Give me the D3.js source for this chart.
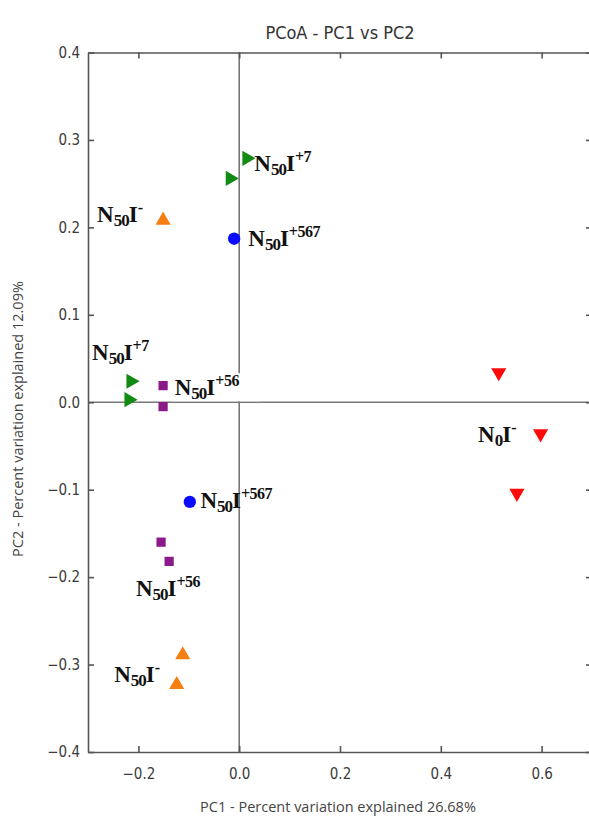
<!DOCTYPE html>
<html>
<head>
<meta charset="utf-8">
<script src="https://cdn.jsdelivr.net/npm/d3@7"></script>
<style>
  body { margin: 0; background: #fff; }
  svg { display: block; }
</style>
</head>
<body>
<div id="chart"></div>
<script>
var width = 589
var height = 819

// sample coordinates per group
var groups = ['N50I+7', 'N50I-', 'N50I+567', 'N50I+56', 'N0I-']
var groupColors = ['#138a13', '#f57f12', '#0a0aff', '#8a1a8a', '#ff0a0a']
var groupShapes = ['right', 'up', 'circle', 'square', 'down']

var pc1 = [0.015, -0.018, -0.215, -0.219,
           -0.151, -0.112, -0.124,
           -0.010, -0.098,
           -0.151, -0.151, -0.155, -0.139,
           0.515, 0.598, 0.551]
var pc2 = [0.279, 0.256, 0.024, 0.003,
           0.208, -0.289, -0.323,
           0.187, -0.114,
           0.019, -0.005, -0.160, -0.182,
           0.034, -0.036, -0.104]
var sampleGroup = [0, 0, 0, 0, 1, 1, 1, 2, 2, 3, 3, 3, 3, 4, 4, 4]

// annotation labels: subscript, superscript, anchor in data units
var labelSub = ['50', '50', '50', '50', '50', '0', '50', '50', '50']
var labelSup = ['+7', '-', '+567', '+7', '+56', '-', '+567', '+56', '-']
var labelPC1 = [0.03, -0.282, 0.018, -0.292, -0.128, 0.474, -0.077, -0.205, -0.248]
var labelPC2 = [0.264, 0.206, 0.179, 0.048, 0.008, -0.046, -0.121, -0.222, -0.320]
var labelBox = [false, false, false, false, true, false, false, false, false]

var xTicks = [-0.2, 0.0, 0.2, 0.4, 0.6]
var yTicks = [-0.4, -0.3, -0.2, -0.1, 0.0, 0.1, 0.2, 0.3, 0.4]

var svg = d3.select('#chart')
    .append('svg')
    .attr('width', width)
    .attr('height', height)

var x = d3.scaleLinear().domain([-0.3, 0.7]).range([88, 592])
var y = d3.scaleLinear().domain([-0.4, 0.4]).range([752, 52.5])

var axisColor = '#555'
var sans = 'DejaVu Sans Condensed, DejaVu Sans, sans-serif'

// zero lines
svg.append('line')
    .attr('x1', x(-0.3)).attr('x2', x(0.7))
    .attr('y1', y(0)).attr('y2', y(0))
    .attr('stroke', '#777').attr('stroke-width', 1.6)
svg.append('line')
    .attr('x1', x(0)).attr('x2', x(0))
    .attr('y1', y(0.4)).attr('y2', y(-0.4))
    .attr('stroke', '#777').attr('stroke-width', 1.6)

// axes with inward ticks on all four sides
function styleAxis(g) {
    g.select('.domain').attr('stroke', axisColor).attr('stroke-width', 1.6)
    g.selectAll('.tick line').attr('stroke', axisColor).attr('stroke-width', 1.6)
    g.selectAll('.tick text')
        .attr('fill', '#3a3a3a')
        .attr('font-family', sans)
        .attr('font-size', 15)
}
var fmt = function(d) { return d3.format('.1f')(d).replace('-', '\u2212') }

svg.append('g')
    .attr('transform', 'translate(0,' + y(-0.4) + ')')
    .call(d3.axisBottom(x).tickValues(xTicks).tickFormat(fmt).tickSizeInner(-6).tickSizeOuter(0).tickPadding(16))
    .call(styleAxis)
svg.append('g')
    .attr('transform', 'translate(0,' + y(0.4) + ')')
    .call(d3.axisTop(x).tickValues(xTicks).tickFormat('').tickSizeInner(-6).tickSizeOuter(0))
    .call(styleAxis)
svg.append('g')
    .attr('transform', 'translate(' + x(-0.3) + ',0)')
    .call(d3.axisLeft(y).tickValues(yTicks).tickFormat(fmt).tickSizeInner(-6).tickSizeOuter(0).tickPadding(8))
    .call(styleAxis)
svg.append('g')
    .attr('transform', 'translate(' + x(0.7) + ',0)')
    .call(d3.axisRight(y).tickValues(yTicks).tickFormat('').tickSizeInner(-6).tickSizeOuter(0))
    .call(styleAxis)

// titles
svg.append('text')
    .attr('x', 340).attr('y', 39)
    .attr('text-anchor', 'middle')
    .attr('font-family', sans)
    .attr('font-size', 18)
    .attr('fill', '#333')
    .text('PCoA - PC1 vs PC2')
svg.append('text')
    .attr('x', 338).attr('y', 812)
    .attr('text-anchor', 'middle')
    .attr('font-family', 'Open Sans, DejaVu Sans, sans-serif')
    .attr('font-size', 14.5)
    .attr('fill', '#444')
    .text('PC1 - Percent variation explained 26.68%')
svg.append('text')
    .attr('transform', 'translate(23,' + 419 + ') rotate(-90)')
    .attr('text-anchor', 'middle')
    .attr('font-family', 'Open Sans, DejaVu Sans, sans-serif')
    .attr('font-size', 14.5)
    .attr('fill', '#444')
    .text('PC2 - Percent variation explained 12.09%')

// markers
var triangle = d3.symbol().type(d3.symbolTriangle).size(100)
var square = d3.symbol().type(d3.symbolSquare).size(85)
var circle = d3.symbol().type(d3.symbolCircle).size(120)
var rotation = { right: 90, up: 0, down: 180 }

svg.append('g')
    .selectAll('path')
    .data(pc1)
    .enter()
    .append('path')
    .attr('d', function(d, i) {
        var s = groupShapes[sampleGroup[i]]
        if (s === 'circle') return circle()
        if (s === 'square') return square()
        return triangle()
    })
    .attr('transform', function(d, i) {
        var s = groupShapes[sampleGroup[i]]
        var r = rotation[s] || 0
        return 'translate(' + x(d) + ',' + y(pc2[i]) + ') rotate(' + r + ')'
    })
    .attr('fill', function(d, i) { return groupColors[sampleGroup[i]] })

// annotation labels
var labels = svg.append('g')
    .attr('font-family', 'Liberation Serif, Times New Roman, serif')
    .attr('font-weight', 'bold')
    .attr('fill', '#111')

labelSub.forEach(function(sub, i) {
    var lx = x(labelPC1[i])
    var ly = y(labelPC2[i])
    if (labelBox[i]) {
        labels.append('rect')
            .attr('x', lx - 2).attr('y', ly - 22)
            .attr('width', 88).attr('height', 28)
            .attr('fill', '#fff')
    }
    var t = labels.append('text')
        .attr('x', lx).attr('y', ly)
        .attr('font-size', 23)
    t.append('tspan').text('N')
    t.append('tspan').attr('dy', 4).attr('font-size', 17).attr('letter-spacing', -1).text(sub)
    t.append('tspan').attr('dy', -4).text('I')
    t.append('tspan').attr('dy', -9).attr('font-size', 16).attr('letter-spacing', -0.5).text(labelSup[i])
})
</script>
</body>
</html>
